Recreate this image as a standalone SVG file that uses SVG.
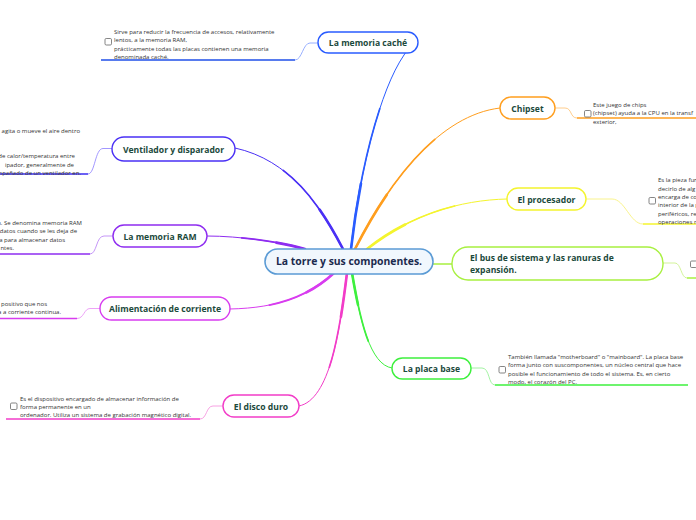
<svg xmlns="http://www.w3.org/2000/svg" width="696" height="520" viewBox="0 0 696 520">
<style>
.node rect{fill:#ffffff;stroke-width:1.4}
.nt{font-family:"Open Sans","Noto Sans","DejaVu Sans",sans-serif;font-weight:bold;font-size:8.6px;fill:#1c4a3c;text-anchor:middle}
.note{font-family:"Open Sans","Noto Sans","DejaVu Sans",sans-serif;font-size:6px;fill:#333333}
.ne{text-anchor:end}
.cb{fill:#ffffff;stroke:#666666;stroke-width:0.8}
.c{fill:none;stroke-linecap:round}
.w1{stroke-width:1}
.wm{stroke-width:1.7}
.w2{stroke-width:2.6}
.nl{fill:none;stroke-width:0.8}
.ul{fill:none;stroke-width:1.5}
</style>
<defs>
  <path id="p-cache" d="M351,249 C360,170 380,90 404,55 Q410,45 417,43"/>
  <path id="p-vent" d="M343,249 C320,205 290,160 235,148"/>
  <path id="p-ram" d="M305,249 C280,242 240,236 207,236"/>
  <path id="p-alim" d="M334,273 C310,295 280,308 230,309"/>
  <path id="p-disco" d="M347,273 C340,330 330,400 299,406"/>
  <path id="p-placa" d="M352,273 C360,320 370,365 392,368"/>
  <path id="p-proc" d="M367,249 C410,215 460,200 507,199"/>
  <path id="p-chip" d="M355,249 C390,180 440,115 500,108"/>
</defs>
<rect width="696" height="520" fill="#ffffff"/>
<g id="connectors">
  <g stroke="#2a5cff" class="c">
    <use href="#p-cache" class="w1"/>
    <path class="wm" pathLength="100" stroke-dasharray="65 200" d="M351,249 C360,170 380,90 404,55 Q410,45 417,43"/>
    <path class="w2" pathLength="100" stroke-dasharray="30 200" d="M351,249 C360,170 380,90 404,55 Q410,45 417,43"/>
  </g>
  <g stroke="#4a30f5" class="c">
    <use href="#p-vent" class="w1"/>
    <path class="wm" pathLength="100" stroke-dasharray="65 200" d="M343,249 C320,205 290,160 235,148"/>
    <path class="w2" pathLength="100" stroke-dasharray="30 200" d="M343,249 C320,205 290,160 235,148"/>
  </g>
  <g stroke="#8e2cf0" class="c">
    <use href="#p-ram" class="w1"/>
    <path class="wm" pathLength="100" stroke-dasharray="65 200" d="M305,249 C280,242 240,236 207,236"/>
    <path class="w2" pathLength="100" stroke-dasharray="30 200" d="M305,249 C280,242 240,236 207,236"/>
  </g>
  <g stroke="#d83cef" class="c">
    <use href="#p-alim" class="w1"/>
    <path class="wm" pathLength="100" stroke-dasharray="65 200" d="M334,273 C310,295 280,308 230,309"/>
    <path class="w2" pathLength="100" stroke-dasharray="30 200" d="M334,273 C310,295 280,308 230,309"/>
  </g>
  <g stroke="#f23cc8" class="c">
    <use href="#p-disco" class="w1"/>
    <path class="wm" pathLength="100" stroke-dasharray="65 200" d="M347,273 C340,330 330,400 299,406"/>
    <path class="w2" pathLength="100" stroke-dasharray="30 200" d="M347,273 C340,330 330,400 299,406"/>
  </g>
  <g stroke="#3ef03e" class="c">
    <use href="#p-placa" class="w1"/>
    <path class="wm" pathLength="100" stroke-dasharray="65 200" d="M352,273 C360,320 370,365 392,368"/>
    <path class="w2" pathLength="100" stroke-dasharray="30 200" d="M352,273 C360,320 370,365 392,368"/>
  </g>
  <path class="c" stroke="#a8f040" stroke-width="1.4" d="M433,264 L452,264"/>
  <g stroke="#f4f42e" class="c">
    <use href="#p-proc" class="w1"/>
    <path class="wm" pathLength="100" stroke-dasharray="65 200" d="M367,249 C410,215 460,200 507,199"/>
    <path class="w2" pathLength="100" stroke-dasharray="30 200" d="M367,249 C410,215 460,200 507,199"/>
  </g>
  <g stroke="#ff9e1e" class="c">
    <use href="#p-chip" class="w1"/>
    <path class="wm" pathLength="100" stroke-dasharray="65 200" d="M355,249 C390,180 440,115 500,108"/>
    <path class="w2" pathLength="100" stroke-dasharray="30 200" d="M355,249 C390,180 440,115 500,108"/>
  </g>

  <path class="nl" stroke="#7f9cff" d="M318,43 L310,43 C303,43 302,60 295,60"/>
  <path class="ul" stroke="#1f4fe8" d="M295,60 L101,60"/>
  <path class="nl" stroke="#8a7cff" d="M112,148.5 L103,148.5 C95,148.5 95,174 88,174"/>
  <path class="ul" stroke="#3a2cf0" d="M88,174 L0,174"/>
  <path class="nl" stroke="#b67cf5" d="M113,236 L104,236 C96,236 97,254 90,254"/>
  <path class="ul" stroke="#8e2cf0" d="M90,254 L0,254"/>
  <path class="nl" stroke="#e88cf5" d="M100,308.5 L90,308.5 C84,308.5 84,318.5 77,318.5"/>
  <path class="ul" stroke="#d83cef" d="M77,318.5 L0,318.5"/>
  <path class="nl" stroke="#f58cdc" d="M223,406 L213,406 C206,406 207,419 200,419"/>
  <path class="ul" stroke="#f23cc8" d="M200,419 L6,419"/>
  <path class="nl" stroke="#ffc070" d="M555,108 L565,108 C572,108 570,118 577,118"/>
  <path class="ul" stroke="#ff9e1e" d="M577,118 L696,118"/>
  <path class="nl" stroke="#f8f070" d="M586,199 L612,199 C625,199 630,224 643,224"/>
  <path class="ul" stroke="#f4f42e" d="M643,224 L696,224"/>
  <path class="nl" stroke="#c8f080" d="M663,263 L675,263 C681,263 681,278 687,278"/>
  <path class="ul" stroke="#a8f040" d="M687,278 L696,278"/>
  <path class="nl" stroke="#8cf08c" d="M471,368 L482,368 C490,368 488,385 495,385"/>
  <path class="ul" stroke="#3ef03e" d="M495,385 L688,385"/>
</g>

<g id="center">
  <rect x="265" y="249" width="168" height="25" rx="12.5" fill="#f1f7fd" stroke="#5b9bd5" stroke-width="1.6"/>
  <text x="349" y="265" font-family="'Open Sans','Noto Sans','DejaVu Sans',sans-serif" font-weight="bold" font-size="10.4" fill="#1b2a4e" text-anchor="middle">La torre y sus componentes.</text>
</g>

<g id="node-cache" class="node">
  <rect x="318" y="32" width="100" height="21" rx="10.5" stroke="#2a5cff"/>
  <text class="nt" x="368" y="46">La memoria caché</text>
</g>
<g id="node-ventilador" class="node">
  <rect x="112" y="137" width="123" height="24" rx="12" stroke="#4a30f5"/>
  <text class="nt" x="173.5" y="152.5">Ventilador y disparador</text>
</g>
<g id="node-ram" class="node">
  <rect x="113" y="225" width="94" height="22" rx="11" stroke="#8e2cf0"/>
  <text class="nt" x="160" y="239.5">La memoria RAM</text>
</g>
<g id="node-alimentacion" class="node">
  <rect x="100" y="297" width="130" height="23" rx="11.5" stroke="#d83cef"/>
  <text class="nt" x="165" y="312">Alimentación de corriente</text>
</g>
<g id="node-disco" class="node">
  <rect x="223" y="395" width="76" height="22" rx="11" stroke="#f23cc8"/>
  <text class="nt" x="261" y="409.5">El disco duro</text>
</g>
<g id="node-chipset" class="node">
  <rect x="500" y="97" width="55" height="22" rx="11" stroke="#ff9e1e"/>
  <text class="nt" x="527.5" y="111.5">Chipset</text>
</g>
<g id="node-procesador" class="node">
  <rect x="507" y="188" width="79" height="22" rx="11" stroke="#f4f42e"/>
  <text class="nt" x="546.5" y="202.5">El procesador</text>
</g>
<g id="node-bus" class="node">
  <rect x="452" y="247" width="211" height="33" rx="16" stroke="#a8f040"/>
  <text class="nt" x="470" y="260.5" style="text-anchor:start">El bus de sistema y las ranuras de</text>
  <text class="nt" x="470" y="272.5" style="text-anchor:start">expansión.</text>
</g>
<g id="node-placa" class="node">
  <rect x="392" y="358" width="79" height="21" rx="10.5" stroke="#3ef03e"/>
  <text class="nt" x="431.5" y="372">La placa base</text>
</g>

<g id="note-cache">
  <rect class="cb" x="105" y="38.5" width="6.5" height="6.5" rx="1.2"/>
  <text class="note" x="114" y="33.5">Sirve para reducir la frecuencia de accesos, relativamente</text>
  <text class="note" x="114" y="42">lentos, a la memoria RAM,</text>
  <text class="note" x="114" y="50.5">prácticamente todas las placas contienen una memoria</text>
  <text class="note" x="114" y="59">denominada caché.</text>
</g>
<g id="note-ventilador">
  <text class="note ne" x="80" y="132.5">agita o mueve el aire dentro</text>
  <text class="note ne" x="75" y="158">de calor/temperatura entre</text>
  <text class="note ne" x="74" y="166.5">ipador, generalmente de</text>
  <text class="note ne" x="81" y="174.8">mpañado de un ventilador en.</text>
</g>
<g id="note-ram">
  <text class="note ne" x="82" y="225">n. Se denomina memoria RAM</text>
  <text class="note ne" x="77" y="233.3">datos cuando se les deja de</text>
  <text class="note ne" x="65" y="241.6">a para almacenar datos</text>
  <text class="note ne" x="14" y="250">ntes.</text>
</g>
<g id="note-alimentacion">
  <text class="note ne" x="47" y="305.7">positivo que nos</text>
  <text class="note ne" x="61" y="314">a a corriente continua.</text>
</g>
<g id="note-disco">
  <rect class="cb" x="10.5" y="403" width="6.5" height="6.5" rx="1.2"/>
  <text class="note" x="20" y="400.5">Es el dispositivo encargado de almacenar información de</text>
  <text class="note" x="20" y="408.8">forma permanente en un</text>
  <text class="note" x="20" y="417">ordenador. Utiliza un sistema de grabación magnético digital.</text>
</g>
<g id="note-chipset">
  <rect class="cb" x="584.5" y="110.5" width="6.5" height="6.5" rx="1.2"/>
  <text class="note" x="593" y="106.5">Este juego de chips</text>
  <text class="note" x="593" y="115">(chipset) ayuda a la CPU en la transf</text>
  <text class="note" x="593" y="123.5">exterior,</text>
</g>
<g id="note-procesador">
  <rect class="cb" x="649" y="197.5" width="6.5" height="6.5" rx="1.2"/>
  <text class="note" x="658" y="182">Es la pieza fun</text>
  <text class="note" x="658" y="190.5">decirlo de alg</text>
  <text class="note" x="658" y="199">encarga de co</text>
  <text class="note" x="658" y="207">interior de la p</text>
  <text class="note" x="658" y="215.5">periféricos, re</text>
  <text class="note" x="658" y="224">operaciones m</text>
</g>
<g id="note-bus">
  <rect class="cb" x="690.5" y="261" width="6.5" height="6.5" rx="1.2"/>
</g>
<g id="note-placa">
  <rect class="cb" x="499" y="366.5" width="6.5" height="6.5" rx="1.2"/>
  <text class="note" x="508" y="359">También llamada "motherboard" o "mainboard". La placa base</text>
  <text class="note" x="508" y="367">forma junto con suscomponentes, un núcleo central que hace</text>
  <text class="note" x="508" y="375.5">posible el funcionamiento de todo el sistema. Es, en cierto</text>
  <text class="note" x="508" y="384">modo, el corazón del PC.</text>
</g>
</svg>
